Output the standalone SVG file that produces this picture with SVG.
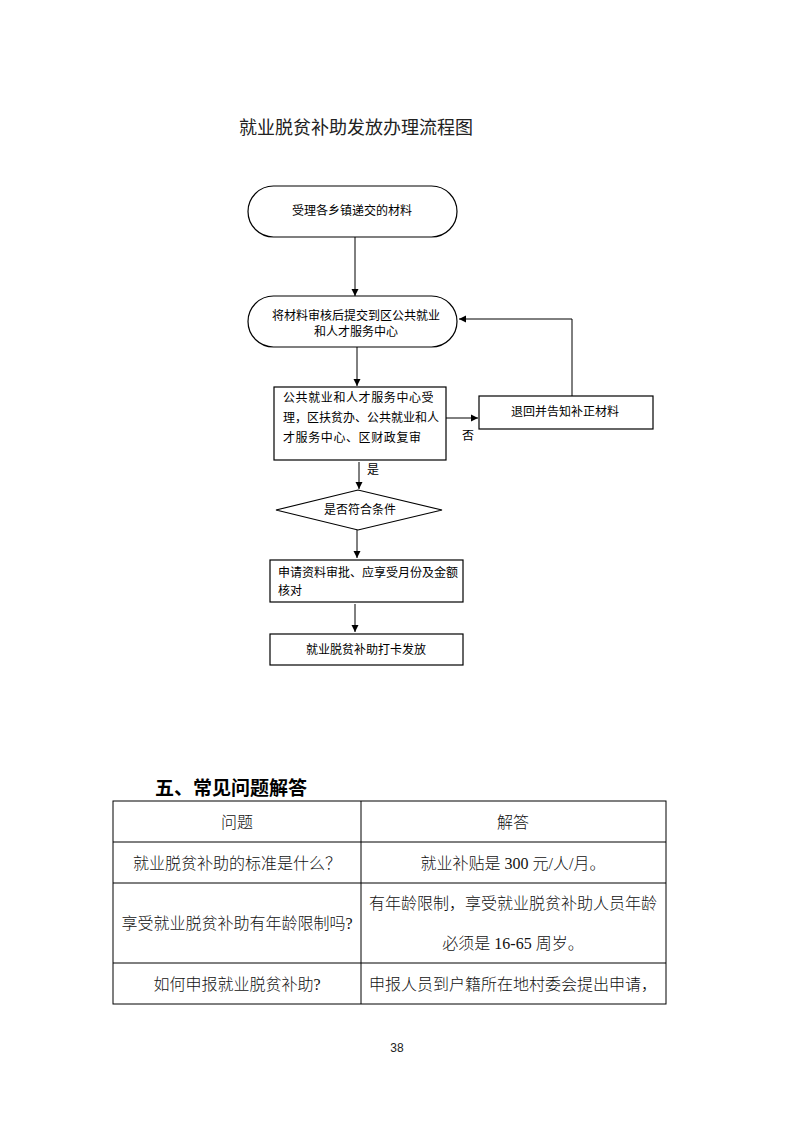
<svg xmlns="http://www.w3.org/2000/svg" width="793" height="1122" viewBox="0 0 793 1122">
<style>
.fc{font-family:"Liberation Sans","Noto Sans CJK SC",sans-serif;font-size:12px;fill:#000}
.sh{fill:#fff;stroke:#000;stroke-width:1.2}
.ln{fill:none;stroke:#000;stroke-width:1}
.tb{font-family:"Liberation Serif","Noto Sans CJK SC",serif;font-size:16px;fill:#111;font-weight:300}
.tl{stroke:#000;stroke-width:1}
</style>
<defs>
<marker id="ah" markerWidth="8" markerHeight="8" refX="7" refY="4" orient="auto" markerUnits="userSpaceOnUse">
<path d="M0,0.5 L7,4 L0,7.5 Z" fill="#000"/>
</marker>
</defs>
<rect width="793" height="1122" fill="#fff"/>
<text x="356" y="134" text-anchor="middle" font-family="Liberation Sans,Noto Sans CJK SC,sans-serif" font-size="18" fill="#222">就业脱贫补助发放办理流程图</text>

<g id="connectors">
<line class="ln" x1="355" y1="237" x2="355" y2="296" marker-end="url(#ah)"/>
<line class="ln" x1="357" y1="347" x2="357" y2="386" marker-end="url(#ah)"/>
<line class="ln" x1="446" y1="418" x2="478" y2="418" marker-end="url(#ah)"/>
<polyline class="ln" points="572,396 572,319 459,319" marker-end="url(#ah)"/>
<line class="ln" x1="359" y1="462" x2="359" y2="489" marker-end="url(#ah)"/>
<line class="ln" x1="357" y1="530" x2="357" y2="558" marker-end="url(#ah)"/>
<line class="ln" x1="355" y1="604" x2="355" y2="632" marker-end="url(#ah)"/>
<text class="fc" x="468" y="440" text-anchor="middle">否</text>
<text class="fc" x="373" y="474" text-anchor="middle">是</text>
</g>

<g id="n1">
<rect class="sh" x="248" y="186" width="209" height="51" rx="25.5"/>
<text class="fc" x="352" y="215" text-anchor="middle">受理各乡镇递交的材料</text>
</g>
<g id="n2">
<rect class="sh" x="248" y="296" width="209" height="51" rx="25.5"/>
<text class="fc" x="356" y="320" text-anchor="middle">将材料审核后提交到区公共就业</text>
<text class="fc" x="356" y="336" text-anchor="middle">和人才服务中心</text>
</g>
<g id="n3">
<rect class="sh" x="274" y="387" width="172" height="73"/>
<text class="fc" x="283" y="402" letter-spacing="0.6">公共就业和人才服务中心受</text>
<text class="fc" x="283" y="422">理，区扶贫办、公共就业和人</text>
<text class="fc" x="283" y="442" letter-spacing="0.6">才服务中心、区财政复审</text>
</g>
<g id="n4">
<rect class="sh" x="479" y="396" width="174" height="33"/>
<text class="fc" x="565" y="416" text-anchor="middle">退回并告知补正材料</text>
</g>
<g id="n5">
<polygon class="sh" points="276,510 358,490 442,510 358,530"/>
<text class="fc" x="360" y="514" text-anchor="middle">是否符合条件</text>
</g>
<g id="n6">
<rect class="sh" x="270" y="560" width="193" height="42"/>
<text class="fc" x="278" y="577">申请资料审批、应享受月份及金额</text>
<text class="fc" x="278" y="595">核对</text>
</g>
<g id="n7">
<rect class="sh" x="270" y="634" width="193" height="31"/>
<text class="fc" x="366" y="654" text-anchor="middle">就业脱贫补助打卡发放</text>
</g>

<text x="155" y="795" font-family="Liberation Sans,Noto Sans CJK SC,sans-serif" font-size="19" font-weight="bold" fill="#000">五、常见问题解答</text>

<g id="table">
<rect x="113" y="801" width="553" height="203" fill="none" stroke="#000" stroke-width="1"/>
<line class="tl" x1="361" y1="801" x2="361" y2="1004"/>
<line class="tl" x1="113" y1="842" x2="666" y2="842"/>
<line class="tl" x1="113" y1="883" x2="666" y2="883"/>
<line class="tl" x1="113" y1="963" x2="666" y2="963"/>
<text class="tb" x="237" y="828" text-anchor="middle">问题</text>
<text class="tb" x="513" y="828" text-anchor="middle">解答</text>
<text class="tb" x="237" y="869" text-anchor="middle">就业脱贫补助的标准是什么？</text>
<text class="tb" x="513" y="869" text-anchor="middle">就业补贴是 300 元/人/月。</text>
<text class="tb" x="237" y="929" text-anchor="middle">享受就业脱贫补助有年龄限制吗?</text>
<text class="tb" x="513" y="909" text-anchor="middle">有年龄限制，享受就业脱贫补助人员年龄</text>
<text class="tb" x="513" y="949" text-anchor="middle">必须是 16-65 周岁。</text>
<text class="tb" x="237" y="990" text-anchor="middle">如何申报就业脱贫补助?</text>
<text class="tb" x="513" y="990" text-anchor="middle">申报人员到户籍所在地村委会提出申请，</text>
</g>

<text x="397" y="1052" text-anchor="middle" font-family="Liberation Sans,sans-serif" font-size="12" fill="#222">38</text>
</svg>
